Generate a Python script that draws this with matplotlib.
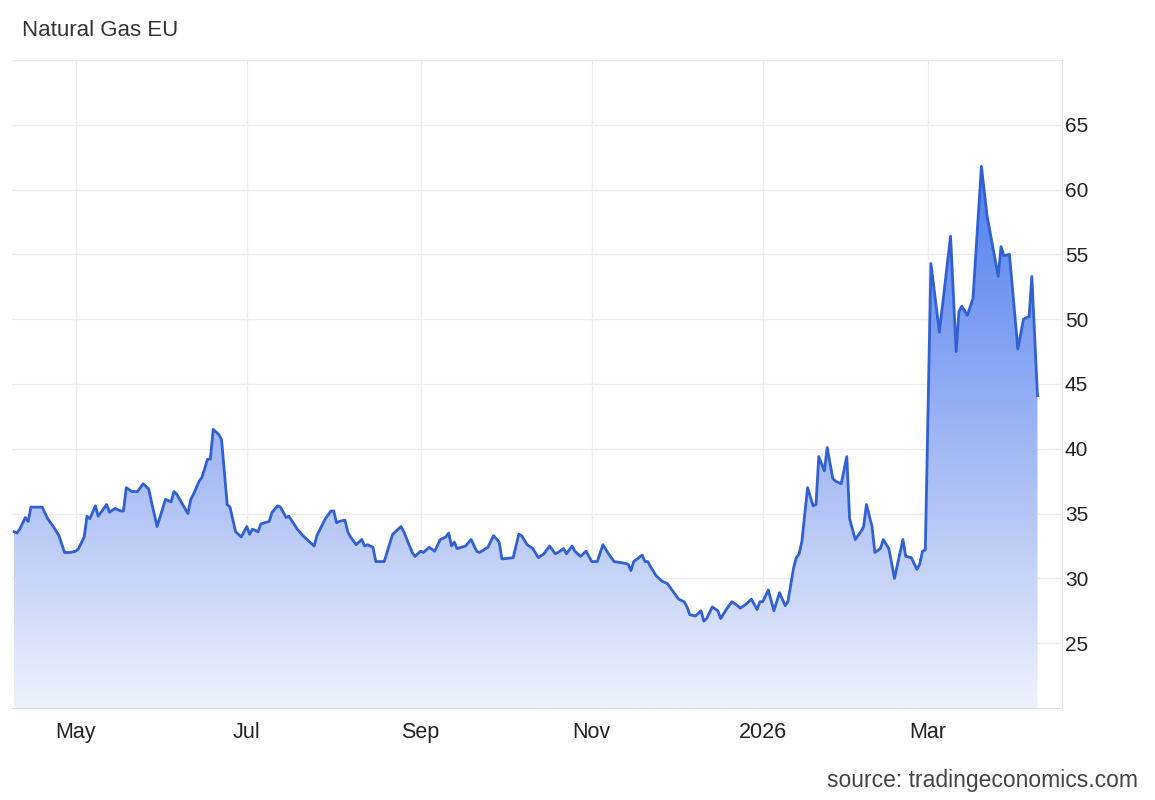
import matplotlib
matplotlib.use("Agg")
import matplotlib.pyplot as plt
import matplotlib.dates as mdates
import numpy as np
import pandas as pd
from matplotlib.colors import LinearSegmentedColormap

plt.rcParams['font.family'] = ['Liberation Sans', 'DejaVu Sans']

title = "Natural Gas EU"
source = "source: tradingeconomics.com"

dates = [
    "2025-04-09", "2025-04-10", "2025-04-11", "2025-04-13", "2025-04-14", "2025-04-15",
    "2025-04-19", "2025-04-21", "2025-04-23", "2025-04-25", "2025-04-27", "2025-04-29",
    "2025-05-01", "2025-05-02", "2025-05-04", "2025-05-05", "2025-05-06", "2025-05-08",
    "2025-05-09", "2025-05-12", "2025-05-13", "2025-05-15", "2025-05-17", "2025-05-18",
    "2025-05-19", "2025-05-21", "2025-05-23", "2025-05-25", "2025-05-27", "2025-05-28",
    "2025-05-30", "2025-06-02", "2025-06-04", "2025-06-05", "2025-06-06", "2025-06-10",
    "2025-06-11", "2025-06-12", "2025-06-14", "2025-06-15", "2025-06-17", "2025-06-18",
    "2025-06-19", "2025-06-21", "2025-06-22", "2025-06-24", "2025-06-25", "2025-06-27",
    "2025-06-29", "2025-07-01", "2025-07-02", "2025-07-03", "2025-07-05", "2025-07-06",
    "2025-07-09", "2025-07-10", "2025-07-12", "2025-07-13", "2025-07-15", "2025-07-16",
    "2025-07-19", "2025-07-21", "2025-07-23", "2025-07-25", "2025-07-26", "2025-07-29",
    "2025-07-31", "2025-08-01", "2025-08-02", "2025-08-03", "2025-08-05", "2025-08-06",
    "2025-08-07", "2025-08-09", "2025-08-11", "2025-08-12", "2025-08-13", "2025-08-15",
    "2025-08-16", "2025-08-17", "2025-08-19", "2025-08-22", "2025-08-25", "2025-08-26",
    "2025-08-29", "2025-08-30", "2025-09-01", "2025-09-02", "2025-09-04", "2025-09-06",
    "2025-09-08", "2025-09-10", "2025-09-11", "2025-09-12", "2025-09-13", "2025-09-14",
    "2025-09-17", "2025-09-19", "2025-09-21", "2025-09-22", "2025-09-25", "2025-09-27",
    "2025-09-29", "2025-09-30", "2025-10-04", "2025-10-06", "2025-10-07", "2025-10-09",
    "2025-10-11", "2025-10-13", "2025-10-15", "2025-10-17", "2025-10-19", "2025-10-20",
    "2025-10-22", "2025-10-23", "2025-10-25", "2025-10-26", "2025-10-28", "2025-10-30",
    "2025-11-01", "2025-11-03", "2025-11-05", "2025-11-07", "2025-11-09", "2025-11-12",
    "2025-11-14", "2025-11-15", "2025-11-16", "2025-11-19", "2025-11-20", "2025-11-21",
    "2025-11-22", "2025-11-24", "2025-11-26", "2025-11-28", "2025-11-30", "2025-12-02",
    "2025-12-04", "2025-12-05", "2025-12-06", "2025-12-08", "2025-12-10", "2025-12-11",
    "2025-12-12", "2025-12-14", "2025-12-16", "2025-12-17", "2025-12-19", "2025-12-21",
    "2025-12-23", "2025-12-24", "2025-12-26", "2025-12-28", "2025-12-30", "2025-12-31",
    "2026-01-01", "2026-01-03", "2026-01-05", "2026-01-07", "2026-01-09", "2026-01-10",
    "2026-01-12", "2026-01-13", "2026-01-14", "2026-01-15", "2026-01-17", "2026-01-19",
    "2026-01-20", "2026-01-21", "2026-01-23", "2026-01-24", "2026-01-26", "2026-01-27",
    "2026-01-29", "2026-01-31", "2026-02-01", "2026-02-03", "2026-02-05", "2026-02-06",
    "2026-02-07", "2026-02-09", "2026-02-10", "2026-02-12", "2026-02-13", "2026-02-15",
    "2026-02-17", "2026-02-20", "2026-02-21", "2026-02-23", "2026-02-25", "2026-02-26",
    "2026-02-27", "2026-02-28", "2026-03-02", "2026-03-05", "2026-03-09", "2026-03-11",
    "2026-03-12", "2026-03-13", "2026-03-15", "2026-03-17", "2026-03-20", "2026-03-22",
    "2026-03-26", "2026-03-27", "2026-03-28", "2026-03-30", "2026-04-02", "2026-04-04",
    "2026-04-06", "2026-04-07", "2026-04-09",
]

prices = [
    33.6, 33.5, 33.8, 34.7, 34.4, 35.5,
    35.5, 34.6, 34.0, 33.3, 32.0, 32.0,
    32.1, 32.3, 33.2, 34.8, 34.6, 35.6,
    34.8, 35.7, 35.1, 35.4, 35.2, 35.2,
    37.0, 36.7, 36.7, 37.3, 36.9, 35.9,
    34.0, 36.1, 35.9, 36.7, 36.5, 35.0,
    36.1, 36.5, 37.5, 37.8, 39.2, 39.2,
    41.5, 41.1, 40.7, 35.7, 35.5, 33.6,
    33.2, 34.0, 33.4, 33.8, 33.6, 34.2,
    34.4, 35.1, 35.6, 35.5, 34.7, 34.8,
    33.8, 33.3, 32.9, 32.5, 33.3, 34.6,
    35.2, 35.2, 34.3, 34.4, 34.5, 33.6,
    33.2, 32.6, 33.0, 32.5, 32.6, 32.4,
    31.3, 31.3, 31.3, 33.4, 34.0, 33.6,
    32.0, 31.7, 32.1, 32.0, 32.4, 32.1,
    33.0, 33.2, 33.5, 32.5, 32.8, 32.3,
    32.5, 33.0, 32.1, 32.0, 32.4, 33.3,
    32.8, 31.5, 31.6, 33.4, 33.3, 32.6,
    32.3, 31.6, 31.9, 32.5, 31.9, 32.0,
    32.3, 31.9, 32.5, 32.1, 31.7, 32.1,
    31.3, 31.3, 32.6, 31.9, 31.3, 31.2,
    31.1, 30.6, 31.3, 31.8, 31.3, 31.3,
    30.9, 30.2, 29.8, 29.6, 29.0, 28.4,
    28.2, 27.8, 27.2, 27.1, 27.5, 26.7,
    26.9, 27.8, 27.5, 26.9, 27.6, 28.2,
    27.9, 27.7, 28.0, 28.4, 27.6, 28.2,
    28.2, 29.1, 27.5, 28.9, 27.9, 28.2,
    30.8, 31.6, 31.9, 32.9, 37.0, 35.6,
    35.7, 39.4, 38.3, 40.1, 37.7, 37.5,
    37.3, 39.4, 34.6, 33.0, 33.6, 34.0,
    35.7, 34.0, 32.0, 32.3, 33.0, 32.3,
    30.0, 33.0, 31.7, 31.6, 30.7, 31.1,
    32.1, 32.2, 54.3, 49.0, 56.4, 47.5,
    50.6, 51.0, 50.3, 51.6, 61.8, 58.0,
    53.3, 55.6, 54.9, 55.0, 47.7, 50.0,
    50.2, 53.3, 44.1,
]

tick_dates = ["2025-05-01", "2025-07-01", "2025-09-01", "2025-11-01", "2026-01-01", "2026-03-01"]
tick_labels = ["May", "Jul", "Sep", "Nov", "2026", "Mar"]
y_ticks = [25, 30, 35, 40, 45, 50, 55, 60, 65]

x = pd.to_datetime(dates)
y = np.array(prices)

fig = plt.figure(figsize=(11.55, 8.0), dpi=100)
ax = fig.add_axes([12 / 1155, 92 / 800, 1050 / 1155, 648 / 800])

ymin, ymax = 20, 70
xmin = pd.Timestamp("2025-04-08 06:00")
xmax = pd.Timestamp("2026-04-17 18:00")
ax.set_xlim(xmin, xmax)
ax.set_ylim(ymin, ymax)

# gradient fill under the line
poly = ax.fill_between(x, y, ymin, facecolor="none", edgecolor="none")
cmap = LinearSegmentedColormap.from_list(
    "grad", [(0.0, "#eef2fd"), (0.3, "#b5c6f6"), (0.6, "#7b9ef2"),
             (0.8, "#5683ee"), (1.0, "#3c6ce8")])
grad = np.linspace(0, 1, 256).reshape(-1, 1)
im = ax.imshow(grad, extent=[mdates.date2num(xmin), mdates.date2num(xmax), ymin, ymax],
               aspect="auto", origin="lower", cmap=cmap, zorder=1)
im.set_clip_path(poly.get_paths()[0], transform=ax.transData)

ax.plot(x, y, color="#3060d4", lw=2.0, zorder=3, solid_joinstyle="round")

ax.set_xticks(pd.to_datetime(tick_dates))
ax.set_xticklabels(tick_labels)
ax.set_yticks(y_ticks)
ax.yaxis.tick_right()
ax.tick_params(axis="both", length=0, colors="#222222")
ax.tick_params(axis="x", pad=10, labelsize=15.5)
ax.tick_params(axis="y", pad=2, labelsize=15)

ax.grid(True, color="#ececec", lw=1.0, zorder=0)
ax.set_axisbelow(True)

ax.spines["left"].set_visible(False)
ax.spines["top"].set_color("#ececec")
ax.spines["right"].set_color("#e6e6e6")
ax.spines["bottom"].set_color("#e0e0e0")

fig.text(22 / 1155, 1 - 31 / 800, title, fontsize=16, color="#333333", va="center", ha="left")
fig.text(1138 / 1155, 1 - 780 / 800, source, fontsize=16.5, color="#444444", va="center", ha="right")

fig.savefig("out.png", dpi=100)
